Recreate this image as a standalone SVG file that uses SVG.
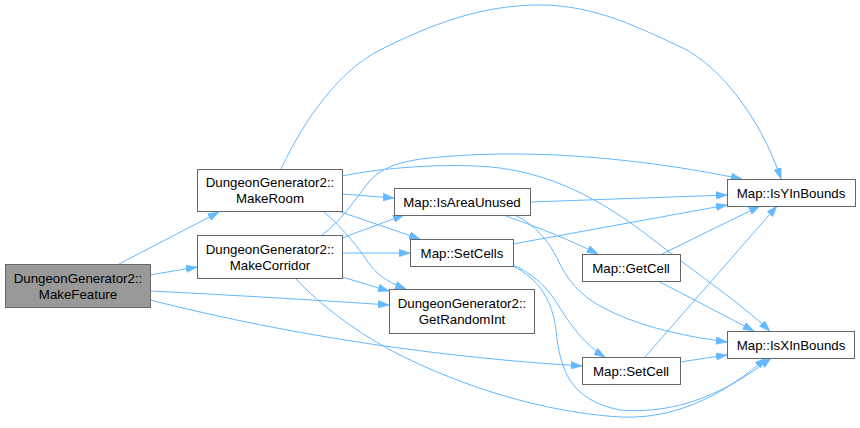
<svg xmlns="http://www.w3.org/2000/svg" width="860" height="428" viewBox="0 0 860 428">
<style>
.n rect{fill:#ffffff;stroke:#666666;stroke-width:1}
.n.cur rect{fill:#999999}
.n text{font-family:"Liberation Sans",Arial,sans-serif;font-size:13.3px;fill:#000000;text-anchor:middle}
.e path{fill:none;stroke:#63b8ff;stroke-width:1;marker-end:url(#ah)}
</style>
<defs>
<marker id="ah" markerUnits="userSpaceOnUse" viewBox="0 0 10 7" markerWidth="11" markerHeight="8" refX="10" refY="3.5" orient="auto">
<path d="M0,0 L10,3.5 L0,7 z" fill="#63b8ff" stroke="#63b8ff" stroke-width="0.5"/>
</marker>
</defs>
<rect x="0" y="0" width="860" height="428" fill="#ffffff"/>
<g id="edges" class="e">
<path d="M119,264 L219,212"/>
<path d="M150,275 L197,267"/>
<path d="M150,291 C250,296 330,301 389,305"/>
<path d="M150,300 C300,338 450,358 582,366"/>
<path d="M281,169 C305,118 340,70 380,50 C430,25 480,5 540,5 C595,5 640,28 687,50 C730,75 765,130 781,179"/>
<path d="M342,194 L394,198"/>
<path d="M338,211 L420,239"/>
<path d="M323,211 C345,230 360,250 370,265 C380,278 393,284 406,289"/>
<path d="M342,176 C380,168 450,162 500,168 C560,176 610,205 660,245 C700,276 740,303 770,331"/>
<path d="M322,235 C340,222 355,200 368,183 C380,168 400,160 440,157 C540,148 650,160 742,179"/>
<path d="M342,238 L404,215"/>
<path d="M342,253 L410,253"/>
<path d="M342,277 L389,291"/>
<path d="M295,278 C320,305 360,335 400,355 C460,385 540,412 620,417 C680,420 730,390 766,358"/>
<path d="M530,202 L727,195"/>
<path d="M503,215 C540,228 570,240 598,254"/>
<path d="M515,215 C535,225 548,240 557,258 C567,280 580,295 600,306 C640,328 690,337 727,342"/>
<path d="M513,244 L727,205"/>
<path d="M513,265 C530,272 545,285 555,300 C570,325 585,345 605,357"/>
<path d="M513,266 C540,280 552,300 556,330 C560,370 570,400 620,410 C680,415 730,390 771,358"/>
<path d="M662,254 L760,206"/>
<path d="M660,282 L754,331"/>
<path d="M645,357 L777,206"/>
<path d="M680,362 L727,355"/>
</g>
<g id="MakeFeature" class="n cur"><rect x="5.5" y="264.5" width="145" height="43"/><text x="78" y="283">DungeonGenerator2::</text><text x="78" y="299">MakeFeature</text></g>
<g id="MakeRoom" class="n"><rect x="197.5" y="169.5" width="145" height="42"/><text x="270" y="187">DungeonGenerator2::</text><text x="270" y="203">MakeRoom</text></g>
<g id="MakeCorridor" class="n"><rect x="197.5" y="235.5" width="145" height="43"/><text x="270" y="254">DungeonGenerator2::</text><text x="270" y="270">MakeCorridor</text></g>
<g id="IsAreaUnused" class="n"><rect x="394.5" y="188.5" width="136" height="27"/><text x="462" y="207">Map::IsAreaUnused</text></g>
<g id="SetCells" class="n"><rect x="410.5" y="239.5" width="103" height="27"/><text x="462" y="258">Map::SetCells</text></g>
<g id="GetRandomInt" class="n"><rect x="389.5" y="289.5" width="145" height="44"/><text x="462" y="308">DungeonGenerator2::</text><text x="462" y="324">GetRandomInt</text></g>
<g id="GetCell" class="n"><rect x="582.5" y="254.5" width="98" height="27"/><text x="631" y="273">Map::GetCell</text></g>
<g id="SetCell" class="n"><rect x="582.5" y="357.5" width="98" height="27"/><text x="631" y="376">Map::SetCell</text></g>
<g id="IsYInBounds" class="n"><rect x="727.5" y="179.5" width="128" height="27"/><text x="791" y="198">Map::IsYInBounds</text></g>
<g id="IsXInBounds" class="n"><rect x="727.5" y="331.5" width="127" height="27"/><text x="791" y="350">Map::IsXInBounds</text></g>
</svg>
